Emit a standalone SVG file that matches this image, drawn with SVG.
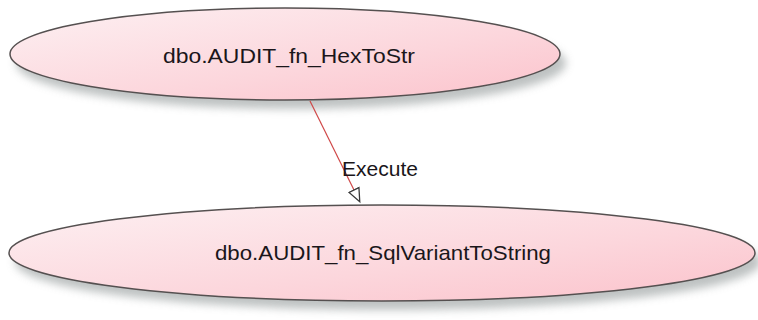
<svg xmlns="http://www.w3.org/2000/svg" width="758" height="320" viewBox="0 0 758 320">
  <defs>
    <linearGradient id="pink" x1="0" y1="0" x2="1" y2="1">
      <stop offset="0" stop-color="#fdf0f2"/>
      <stop offset="0.6" stop-color="#fcd6dc"/>
      <stop offset="1" stop-color="#fbc2cb"/>
    </linearGradient>
    <filter id="blur" x="-10%" y="-30%" width="120%" height="160%">
      <feGaussianBlur stdDeviation="4"/>
    </filter>
    <marker id="arrow" markerWidth="18" markerHeight="18" refX="1" refY="7" orient="auto" markerUnits="userSpaceOnUse">
      <path d="M1,1.5 L14,7 L1,12.5 Z" fill="#ffffff" stroke="#3a3a3a" stroke-width="1.3"/>
    </marker>
    <style>
      .shadow { fill: #aeb3b3; opacity: 0.8; filter: url(#blur); }
      .body { fill: url(#pink); stroke: #555050; stroke-width: 1.5; }
      .label { font-family: "Liberation Sans", Arial, sans-serif; font-size: 21px; fill: #1a161a; }
      .edge { stroke: #d04848; stroke-width: 1.2; fill: none; }
    </style>
  </defs>
  <rect width="758" height="320" fill="#ffffff"/>

  <g id="node-hextostr">
    <ellipse class="shadow" cx="291" cy="63" rx="275" ry="46"/>
    <ellipse class="body" cx="285" cy="54" rx="275" ry="46"/>
    <text class="label" x="289" y="63" text-anchor="middle" textLength="252" lengthAdjust="spacingAndGlyphs">dbo.AUDIT_fn_HexToStr</text>
  </g>

  <g id="node-sqlvarianttostring">
    <ellipse class="shadow" cx="388" cy="262" rx="373" ry="48"/>
    <ellipse class="body" cx="382" cy="253" rx="373" ry="48"/>
    <text class="label" x="383" y="260" text-anchor="middle" textLength="336" lengthAdjust="spacingAndGlyphs">dbo.AUDIT_fn_SqlVariantToString</text>
  </g>

  <g id="connectors">
    <line class="edge" x1="310" y1="101" x2="354" y2="190" marker-end="url(#arrow)"/>
    <text class="label" x="342" y="176" textLength="76" lengthAdjust="spacingAndGlyphs">Execute</text>
  </g>
</svg>
